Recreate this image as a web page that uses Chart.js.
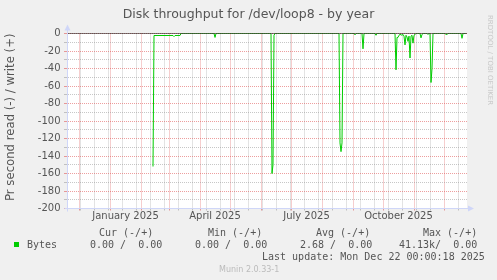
<!DOCTYPE html>
<html>
<head>
<meta charset="utf-8">
<script src="https://cdn.jsdelivr.net/npm/chart.js@4.4.1/dist/chart.umd.min.js"></script>
<style>
  body { margin: 0; background: #f0f0f0; }
  #wrap { position: relative; width: 497px; height: 280px; overflow: hidden; }
  #myChart { position: absolute; left: 0; top: 0; }
  #title { position: absolute; left: 0; top: 5.7px; width: 497px; text-align: center;
           font: 12.5px/15px "DejaVu Sans"; color: #555; }
  #rrd { position: absolute; left: 494px; top: 15px; transform-origin: 0 0; transform: rotate(90deg);
         font: 7px/8px "DejaVu Sans"; color: #c8c8c8; white-space: pre; }
  .t { position: absolute; white-space: pre; font: 10px/12px "DejaVu Sans Mono"; color: #555; }
  #box { position: absolute; left: 14px; top: 242px; width: 5px; height: 5px; background: #00cc00; }
  #munin { position: absolute; left: 219px; top: 265px; font: 8px/10px "DejaVu Sans"; color: #bbb; }
</style>
</head>
<body>
<div id="wrap">
  <canvas id="myChart" width="497" height="280"></canvas>
  <div id="title">Disk throughput for /dev/loop8 - by year</div>
  <div id="rrd">RRDTOOL / TOBI OETIKER</div>
  <span class="t" style="left:99px;top:227px">Cur (-/+)</span>
  <span class="t" style="left:208px;top:227px">Min (-/+)</span>
  <span class="t" style="left:316px;top:227px">Avg (-/+)</span>
  <span class="t" style="left:423px;top:227px">Max (-/+)</span>
  <div id="box"></div>
  <span class="t" style="left:27px;top:238.5px">Bytes</span>
  <span class="t" style="left:90px;top:238.5px">0.00 /  0.00</span>
  <span class="t" style="left:195px;top:238.5px">0.00 /  0.00</span>
  <span class="t" style="left:300px;top:238.5px">2.68 /  0.00</span>
  <span class="t" style="left:399px;top:238.5px">41.13k/  0.00</span>
  <span class="t" style="left:262px;top:250.5px">Last update: Mon Dec 22 00:00:18 2025</span>
  <div id="munin">Munin 2.0.33-1</div>
</div>
<script>
"use strict";

// x is counted in days from 1 January 2025
const dayZero = Date.UTC(2025, 0, 1);
const dayOf = (y, m, d) => (Date.UTC(y, m - 1, d) - dayZero) / 86400000;

// shown period, about 18 Nov 2024 .. 22 Dec 2025
const xFrom = -43;
const xTo = 357;

// read (-) per day
const readDays = [43, 44, 63, 64, 65, 70, 71, 104, 105, 106,
    161, 162, 163, 164, 165, 229, 230, 231, 232, 233,
    244, 245, 246, 252, 253, 254, 265, 266, 267,
    285, 286, 287, 288, 289, 290, 291, 292, 293, 294, 295, 296, 297, 298, 299,
    300, 301, 302, 303, 304, 305, 306, 310, 311, 312, 313,
    317, 318, 319, 320, 321, 322, 323, 335, 336, 337, 338, 351, 352, 353, 356];
const readValues = [-152, -2.3, -2.3, -3.5, -2.3, -2.3, 0, 0, -4.5, 0,
    0, -160, -150, -2, 0, 0, -125, -135, -125, 0,
    0, -1.5, 0, 0, -17.5, 0, 0, -2, 0,
    0, -41.5, -4.5, -4.5, -2, -1, -1.5, -2, -1, -3, -13, -2, -4, -9, -3,
    -28, -3, -2, -11, -2, -1, 0, 0, -5, -1, 0,
    0, -1, 0, 0, -56, -40, 0, 0, -1, -1, 0, 0, -5.5, 0, 0];

// zero rule
const zeroValues = [0, 0];

const yMin = -200;
const yMax = 0;
const yLabels = [0, -20, -40, -60, -80, -100, -120, -140, -160, -180, -200];

const monthLabels = ["January 2025", "April 2025", "July 2025", "October 2025"];
const labelMonths = [1, 4, 7, 10];

// grid: red on month starts, grey every second Monday
const kind = new Map();
for (let d = dayOf(2024, 12, 2); d <= xTo; d += 14) kind.set(d, "minor");
for (let m = 12; m <= 24; m++) kind.set(dayOf(2024, m, 1), "major");
const labelAt = new Map();
labelMonths.forEach((m, i) => {
    const mid = (dayOf(2025, m, 1) + dayOf(2025, m + 1, 1)) / 2;
    labelAt.set(mid, monthLabels[i]);
    kind.set(mid, "label");
});
const xTicks = [...kind.keys()].filter(v => v >= xFrom && v <= xTo).sort((a, b) => a - b);

const yTicks = [];
for (let v = yMin; v <= yMax; v += 10) yTicks.push(v);

const majorColor = "rgba(222,79,79,0.55)";
const minorColor = "rgba(143,143,143,0.5)";
const axisColor = "#cfd6f8";
const font = { family: "DejaVu Sans", size: 10 };

function xGridColor(ctx) {
    if (!ctx.tick) return minorColor;
    const k = kind.get(ctx.tick.value);
    return k === "major" ? majorColor : k === "minor" ? minorColor : "rgba(0,0,0,0)";
}
function yGridColor(ctx) {
    if (!ctx.tick) return minorColor;
    return ctx.tick.value % 20 === 0 ? majorColor : minorColor;
}

const plotBack = {
    id: "plotBack",
    beforeDraw(chart) {
        const a = chart.chartArea;
        chart.ctx.save();
        chart.ctx.fillStyle = "#ffffff";
        chart.ctx.fillRect(a.left, a.top, a.right - a.left, a.bottom - a.top);
        chart.ctx.restore();
    }
};

const axisArrows = {
    id: "axisArrows",
    afterDraw(chart) {
        const { ctx, chartArea: a } = chart;
        const x = Math.floor(a.left) + 0.5;
        const y = Math.floor(a.bottom) + 0.5;
        ctx.save();
        ctx.strokeStyle = axisColor;
        ctx.fillStyle = axisColor;
        ctx.lineWidth = 1;
        ctx.beginPath();
        ctx.moveTo(x, y + 3); ctx.lineTo(x, a.top - 4);
        ctx.moveTo(x - 3, y); ctx.lineTo(a.right + 3, y);
        ctx.stroke();
        ctx.beginPath();
        ctx.moveTo(x, a.top - 9); ctx.lineTo(x - 3, a.top - 3); ctx.lineTo(x + 3, a.top - 3);
        ctx.closePath(); ctx.fill();
        ctx.beginPath();
        ctx.moveTo(a.right + 7, y); ctx.lineTo(a.right + 1, y - 3); ctx.lineTo(a.right + 1, y + 3);
        ctx.closePath(); ctx.fill();
        ctx.restore();
    }
};

const chartDiv = document.getElementById("myChart");

new Chart(chartDiv, {
    type: "line",
    data: {
        datasets: [{
            label: "Bytes",
            data: readDays.map((d, i) => ({ x: d, y: readValues[i] })),
            borderColor: "#00cc00",
            borderWidth: 1,
            pointRadius: 0,
            tension: 0,
            order: 2
        }, {
            label: "zero",
            data: [xFrom, xTo].map((d, i) => ({ x: d, y: zeroValues[i] })),
            borderColor: "#000000",
            borderWidth: 1,
            pointRadius: 0,
            order: 1
        }]
    },
    options: {
        responsive: false,
        animation: false,
        devicePixelRatio: 1,
        layout: { padding: { left: 0, right: 30, top: 33.5, bottom: 0 } },
        plugins: {
            legend: { display: false },
            tooltip: { enabled: false }
        },
        scales: {
            x: {
                type: "linear",
                min: xFrom,
                max: xTo,
                afterBuildTicks: axis => { axis.ticks = xTicks.map(v => ({ value: v })); },
                afterFit: axis => { axis.height = 71.5; },
                grid: { color: xGridColor, tickColor: xGridColor, tickLength: 2, lineWidth: 1 },
                border: { color: axisColor, dash: [1, 1] },
                ticks: {
                    autoSkip: false, maxRotation: 0, minRotation: 0, padding: 0,
                    font: font, color: "#555",
                    callback: v => labelAt.get(v) || ""
                }
            },
            y: {
                min: yMin,
                max: yMax,
                afterBuildTicks: axis => { axis.ticks = yTicks.map(v => ({ value: v })); },
                afterFit: axis => { axis.width = 67; },
                grid: { color: yGridColor, tickColor: yGridColor, tickLength: 3, lineWidth: 1 },
                border: { color: axisColor, dash: [1, 1] },
                ticks: {
                    autoSkip: false, padding: 3.5,
                    font: font, color: "#555",
                    callback: v => yLabels.includes(v) ? String(v) : ""
                },
                title: {
                    display: true,
                    text: "Pr second read (-) / write (+)",
                    align: "end",
                    font: { family: "DejaVu Sans", size: 11.7 },
                    color: "#555",
                    padding: { top: 3.8, bottom: 0 }
                }
            }
        }
    },
    plugins: [plotBack, axisArrows]
});
</script>
</body>
</html>
